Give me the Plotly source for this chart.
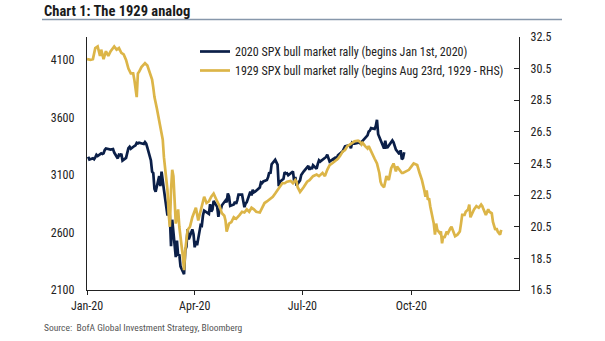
import pandas as pd
import plotly.graph_objects as go

# ---- 2020 SPX (left axis) ----
spx_dates = [
"2020-01-02","2020-01-03","2020-01-06","2020-01-07","2020-01-08","2020-01-09","2020-01-10","2020-01-13","2020-01-14","2020-01-15",
"2020-01-16","2020-01-17","2020-01-21","2020-01-22","2020-01-23","2020-01-24","2020-01-27","2020-01-28","2020-01-29","2020-01-30",
"2020-01-31","2020-02-03","2020-02-04","2020-02-05","2020-02-06","2020-02-07","2020-02-10","2020-02-11","2020-02-12","2020-02-13",
"2020-02-14","2020-02-18","2020-02-19","2020-02-20","2020-02-21","2020-02-24","2020-02-25","2020-02-26","2020-02-27","2020-02-28",
"2020-03-02","2020-03-03","2020-03-04","2020-03-05","2020-03-06","2020-03-09","2020-03-10","2020-03-11","2020-03-12","2020-03-13",
"2020-03-16","2020-03-17","2020-03-18","2020-03-19","2020-03-20","2020-03-23","2020-03-24","2020-03-25","2020-03-26","2020-03-27",
"2020-03-30","2020-03-31","2020-04-01","2020-04-02","2020-04-03","2020-04-06","2020-04-07","2020-04-08","2020-04-09","2020-04-13",
"2020-04-14","2020-04-15","2020-04-16","2020-04-17","2020-04-20","2020-04-21","2020-04-22","2020-04-23","2020-04-24","2020-04-27",
"2020-04-28","2020-04-29","2020-04-30","2020-05-01","2020-05-04","2020-05-05","2020-05-06","2020-05-07","2020-05-08","2020-05-11",
"2020-05-12","2020-05-13","2020-05-14","2020-05-15","2020-05-18","2020-05-19","2020-05-20","2020-05-21","2020-05-22","2020-05-26",
"2020-05-27","2020-05-28","2020-05-29","2020-06-01","2020-06-02","2020-06-03","2020-06-04","2020-06-05","2020-06-08","2020-06-09",
"2020-06-10","2020-06-11","2020-06-12","2020-06-15","2020-06-16","2020-06-17","2020-06-18","2020-06-19","2020-06-22","2020-06-23",
"2020-06-24","2020-06-25","2020-06-26","2020-06-29","2020-06-30","2020-07-01","2020-07-02","2020-07-06","2020-07-07","2020-07-08",
"2020-07-09","2020-07-10","2020-07-13","2020-07-14","2020-07-15","2020-07-16","2020-07-17","2020-07-20","2020-07-21","2020-07-22",
"2020-07-23","2020-07-24","2020-07-27","2020-07-28","2020-07-29","2020-07-30","2020-07-31","2020-08-03","2020-08-04","2020-08-05",
"2020-08-06","2020-08-07","2020-08-10","2020-08-11","2020-08-12","2020-08-13","2020-08-14","2020-08-17","2020-08-18","2020-08-19",
"2020-08-20","2020-08-21","2020-08-24","2020-08-25","2020-08-26","2020-08-27","2020-08-28","2020-08-31","2020-09-01","2020-09-02",
"2020-09-03","2020-09-04","2020-09-08","2020-09-09","2020-09-10","2020-09-11","2020-09-14","2020-09-15","2020-09-16","2020-09-17",
"2020-09-18","2020-09-21","2020-09-22","2020-09-23","2020-09-24","2020-09-25"]
spx_values = [
3258,3235,3246,3237,3253,3275,3265,3288,3283,3289,
3317,3330,3321,3321,3326,3295,3244,3276,3273,3284,
3226,3249,3298,3334,3345,3328,3352,3358,3379,3374,
3380,3370,3386,3373,3338,3226,3128,3116,2979,2954,
3090,3003,3130,3024,2972,2747,2882,2741,2481,2711,
2386,2529,2398,2409,2305,2237,2447,2476,2630,2541,
2627,2585,2471,2527,2489,2664,2659,2750,2790,2762,
2846,2783,2800,2875,2823,2737,2799,2798,2837,2878,
2863,2940,2912,2831,2843,2868,2849,2882,2930,2930,
2870,2820,2852,2864,2954,2923,2972,2949,2955,2992,
3036,3030,3044,3056,3081,3123,3112,3194,3232,3207,
3190,3002,3041,3067,3125,3113,3115,3098,3118,3131,
3050,3084,3009,3053,3100,3116,3130,3180,3145,3169,
3152,3185,3155,3197,3227,3216,3225,3251,3257,3276,
3236,3216,3239,3218,3258,3246,3271,3295,3306,3327,
3349,3352,3360,3333,3380,3373,3373,3381,3390,3375,
3385,3397,3431,3444,3478,3485,3508,3500,3527,3580,
3455,3427,3331,3399,3339,3341,3384,3401,3385,3357,
3320,3281,3315,3237,3247,3298]

# ---- 1929 SPX (right axis), days after Aug 23 1929 placed on the 2020 calendar ----
gold_days = [0,3,5,7,9,11,12,14,16,18,20,23,25,27,29,31,33,35,37,39,40,42,43,44,46,49,51,53,55,56,57,
59,60,62,64,65,66,68,69,70,71,72,73,74,75,76,77,78,80,81,82,83,85,87,89,91,92,94,97,99,
101,103,105,107,110,112,114,116,117,118,120,122,124,126,129,131,133,135,137,139,141,143,146,148,150,152,155,157,159,161,
163,165,167,169,172,174,176,177,178,180,183,186,188,191,194,196,199,201,203,205,207,210,212,214,216,218,220,222,224,226,
229,231,232,233,235,237,238,240,242,243,245,247,248,249,251,252,253,255,256,257,259,260,261,262,264,266,267,270,272,274,
276,279,280,281,283,284,285,286,287,288,289,290,292,293,294,295,296,298,299,300,301,302,304,305,307,308,309,311,313,315,
316,317,319,320,322,323,324,326,327,329,331,333,334,335,337,339,340,342,343,345,346,347,349,350]
gold_values = [31.1,31.05,31.1,31.8,31.9,31.3,31.7,31.1,31.6,31.3,31.6,31.9,31.7,31.8,31.5,31.4,31.05,30.5,30.2,30.2,29.8,28.7,30.2,30.3,30.6,30.85,30.7,30.3,29.8,29.3,28.7,
28.0,27.6,26.6,26.0,24.9,24.1,22.8,21.3,20.5,22.8,24.1,23.7,21.6,20.7,21.1,21.6,20.5,19.4,18.6,17.75,19.0,20.3,20.5,21.1,21.6,21.7,20.9,21.8,22.4,
22.0,22.1,22.4,22.6,22.1,21.8,21.35,21.2,20.9,20.2,20.7,20.8,21.1,21.0,21.25,21.45,21.4,21.6,21.45,21.7,21.6,21.45,21.4,21.7,22.0,22.1,22.3,22.4,22.6,22.8,
23.0,23.25,23.25,23.35,23.4,23.25,23.45,23.35,23.0,22.7,23.0,23.35,23.45,23.7,23.8,23.7,23.9,23.7,24.1,24.4,24.5,24.7,24.8,25.0,25.25,25.35,25.6,25.7,25.8,25.9,
25.95,25.85,25.7,25.8,25.6,25.45,25.6,25.25,25.0,24.8,24.5,23.9,23.35,23.15,23.0,23.45,23.7,23.45,23.8,24.2,24.5,24.3,24.0,24.3,24.1,23.9,23.9,24.0,24.1,24.3,24.5,
24.4,24.2,23.9,23.45,23.0,22.8,22.4,22.8,22.2,22.3,21.8,21.1,20.7,20.0,20.7,20.3,20.1,20.2,19.45,19.9,19.8,20.2,20.1,20.4,20.5,20.3,19.9,20.0,20.2,20.7,
21.25,21.25,21.45,21.6,21.9,21.1,21.45,21.6,21.8,21.7,21.9,21.8,21.6,21.25,21.6,21.45,21.35,20.8,20.3,20.4,20.2,20.0,20.3,20.75]

left_ticks = [2100, 2600, 3100, 3600, 4100]
right_ticks = [16.5, 18.5, 20.5, 22.5, 24.5, 26.5, 28.5, 30.5, 32.5]
x_tick_dates = ["2020-01-01", "2020-04-01", "2020-07-01", "2020-10-01"]
x_tick_labels = ["Jan-20", "Apr-20", "Jul-20", "Oct-20"]

NAVY = "#0b1f48"
GOLD = "#dcb548"
FONT = "Liberation Sans Narrow, Roboto Condensed, Arial Narrow, Roboto, sans-serif"

gold_dates = pd.Timestamp("2020-01-01") + pd.to_timedelta(gold_days, unit="D")

fig = go.Figure()
fig.add_trace(go.Scatter(x=spx_dates, y=spx_values, mode="lines",
                         name="2020 SPX bull market rally (begins Jan 1st, 2020)",
                         line=dict(color=NAVY, width=2.7)))
fig.add_trace(go.Scatter(x=gold_dates, y=gold_values, mode="lines", yaxis="y2",
                         name="1929 SPX bull market rally (begins Aug 23rd, 1929 - RHS)",
                         line=dict(color=GOLD, width=2.7)))

fig.update_layout(
    width=605, height=341,
    margin=dict(l=87, r=86, t=37, b=51),
    paper_bgcolor="white", plot_bgcolor="white",
    font=dict(family=FONT, size=12, color="#222222"),
    showlegend=True,
    legend=dict(x=0.25, y=1.0, xanchor="left", yanchor="top",
                bgcolor="rgba(0,0,0,0)", font=dict(size=12, color="#222222"),
                tracegroupgap=2, itemwidth=30),
    xaxis=dict(type="date", range=["2020-01-01", "2020-12-31"],
               tickvals=x_tick_dates, ticktext=x_tick_labels,
               showgrid=False, zeroline=False,
               showline=True, linecolor="#222222", linewidth=1.3,
               ticks="outside", ticklen=4, tickcolor="#222222", ticklabelstandoff=0),
    yaxis=dict(range=[2100, 4300], tickvals=left_ticks,
               showgrid=False, zeroline=False,
               showline=True, linecolor="#222222", linewidth=1.3,
               ticks="", ticklabelstandoff=9),
    yaxis2=dict(range=[16.5, 32.5], tickvals=right_ticks, tickformat=".1f",
                overlaying="y", side="right",
                showgrid=False, zeroline=False,
                showline=True, linecolor="#222222", linewidth=1.3,
                ticks="inside", ticklen=5, tickcolor="#222222", ticklabelstandoff=8),
)

fig.add_annotation(text="<b>Chart 1: The 1929 analog</b>", xref="paper", yref="paper",
                   x=(42 - 87) / 432, y=(290 - 12) / 253, xanchor="left", yanchor="middle",
                   showarrow=False, font=dict(size=14.5, color="#1a1a1a", family=FONT))
fig.add_shape(type="line", xref="paper", yref="paper",
              x0=(42 - 87) / 432, x1=(562 - 87) / 432,
              y0=(290 - 19.5) / 253, y1=(290 - 19.5) / 253,
              line=dict(color="#8797ab", width=1.3))
fig.add_annotation(text="Source:  BofA Global Investment Strategy, Bloomberg", xref="paper", yref="paper",
                   x=(42 - 87) / 432, y=(290 - 327) / 253, xanchor="left", yanchor="middle",
                   showarrow=False, font=dict(size=9.5, color="#555555", family=FONT))

fig.write_html("out.html")
